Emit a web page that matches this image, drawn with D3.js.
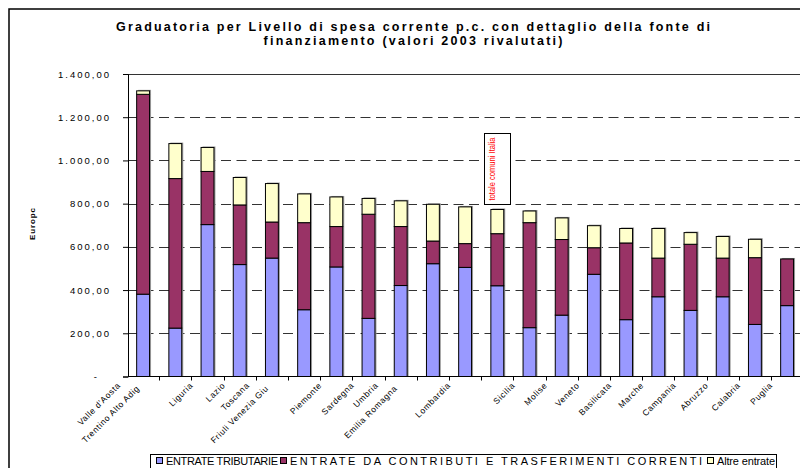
<!DOCTYPE html>
<html><head><meta charset="utf-8">
<script src="https://cdn.jsdelivr.net/npm/d3@7"></script>
<style>body{margin:0;background:#fff} svg{display:block;font-family:"Liberation Sans",Arial,sans-serif}</style>
</head><body><svg id="c" width="800" height="468"></svg>
<script>
// ---- data ----
const regions = ["Valle d'Aosta","Trentino Alto Adige","Liguria","Lazio","Toscana","Friuli Venezia Giulia","Piemonte","Sardegna","Umbria","Emilia Romagna","Lombardia","totale comuni Italia","Sicilia","Molise","Veneto","Basilicata","Marche","Campania","Abruzzo","Calabria","Puglia"];
// axis text as printed under each bar (some are printed as two lines, some bars have none)
const tickLabels = [["Valle d'Aosta","Trentino Alto Adig"],[],["Liguria"],["Lazio"],["Toscana","Friuli Venezia Giu"],[],["Piemonte"],["Sardegna"],["Umbria","Emilia Romagna"],[],["Lombardia"],[],["Sicilia"],["Molise"],["Veneto"],["Basilicata"],["Marche"],["Campania"],["Abruzzo"],["Calabria"],["Puglia"]];
const entrateTributarie = [381,224,703,518,548,309,507,269,421,522,505,420,226,284,473,263,369,306,369,241,328];
const entrateContributi = [925,692,246,276,167,403,187,482,273,105,110,241,486,350,123,355,179,306,179,309,216];
const altreEntrate      = [16,162,111,127,178,133,137,73,119,170,170,112,54,100,102,67,137,54,100,85,0];
const seriesNames = ["ENTRATE TRIBUTARIE","ENTRATE DA CONTRIBUTI E TRASFERIMENTI CORRENTI","Altre entrate"];
const seriesColors = ["#9999FF","#993366","#FFFFCC"];
const yTicks = [0,200,400,600,800,1000,1200,1400];
const titleLines = ["Graduatoria per Livello di spesa corrente p.c. con dettaglio della fonte di","finanziamento (valori 2003 rivalutati)"];
const yTitle = "Europc";
const annotationText = "totale comuni Italia";
const annotatedRegion = "totale comuni Italia";

// ---- chart ----
const svg = d3.select("#c");
const keys = ["trib","contr","altre"];
const rows = regions.map((r,i)=>({region:r, i, trib:entrateTributarie[i], contr:entrateContributi[i], altre:altreEntrate[i]}));
const stack = d3.stack().keys(keys)(rows);

const x = d3.scaleBand().domain(d3.range(regions.length)).range([127, 803.2]).paddingInner(0.6).paddingOuter(0.3);
const y = d3.scaleLinear().domain([0,1400]).range([376.5, 74]);
const x0 = 128;

// outer frame
svg.append("path").attr("d","M9,468V9H800").attr("fill","none").attr("stroke","#000").attr("stroke-width",1.5);

// title
titleLines.forEach((t,k)=>{
  svg.append("text").attr("x",413).attr("y",31+k*14).attr("text-anchor","middle")
    .attr("font-weight","bold").attr("font-size",12.5)
    .attr("textLength", k===0?594:299).attr("lengthAdjust","spacing").text(t);
});

// gridlines
svg.append("g").selectAll("line").data(yTicks.filter(v=>v>0)).join("line")
  .attr("x1",x0).attr("x2",800).attr("y1",d=>Math.round(y(d))+0.5).attr("y2",d=>Math.round(y(d))+0.5)
  .attr("stroke","#333").attr("stroke-width",1)
  .attr("stroke-dasharray",d=>d===1400?null:"10,5.5");

// bar shadows (light grey edge like the original)
svg.append("g").selectAll("rect").data(rows).join("rect")
  .attr("x",d=>x(d.i)+1.5).attr("width",x.bandwidth())
  .attr("y",d=>y(d.trib+d.contr+d.altre)-1).attr("height",d=>y(0)-y(d.trib+d.contr+d.altre)+1)
  .attr("fill","#9a9a9a");

// bars
const g = svg.append("g");
stack.forEach((s,si)=>{
  g.selectAll(null).data(s).join("rect")
    .filter(d=>d[1]-d[0]>0)
    .attr("x",d=>x(d.data.i)).attr("width",x.bandwidth())
    .attr("y",d=>y(d[1])).attr("height",d=>y(d[0])-y(d[1]))
    .attr("fill",seriesColors[si]).attr("stroke","#000").attr("stroke-width",1);
});

// y axis
const loc = d3.formatLocale({decimal:",",thousands:".",grouping:[3],currency:["",""]});
const fmt = loc.format(",.2f");
const ya = svg.append("g").attr("transform",`translate(${x0},0)`)
  .call(d3.axisLeft(y).tickValues(yTicks).tickSize(5).tickPadding(12).tickFormat(v=>v===0?"-":fmt(v)));
ya.select(".domain").attr("stroke","#000");
ya.selectAll(".tick line").attr("stroke","#000");
ya.selectAll(".tick text").attr("font-size",9.5).attr("letter-spacing","2px").attr("fill","#000")
  .attr("font-family","Liberation Sans, Arial, sans-serif")
  .attr("dx",d=>d===0?-12:0);

// x axis
svg.append("line").attr("x1",x0).attr("x2",800).attr("y1",376.5).attr("y2",376.5).attr("stroke","#000");
svg.append("g").selectAll("line").data(d3.range(1,regions.length+1)).join("line")
  .attr("x1",i=>Math.round(x(0)-x.step()*x.paddingOuter()+i*x.step())+0.5)
  .attr("x2",i=>Math.round(x(0)-x.step()*x.paddingOuter()+i*x.step())+0.5)
  .attr("y1",376.5).attr("y2",380.5).attr("stroke","#000");

// x labels
const xl = svg.append("g").attr("font-size",8.5).attr("letter-spacing","0.6px");
tickLabels.forEach((lines,i)=>{
  const cx = x(i)+x.bandwidth()/2;
  lines.forEach((t,k)=>{
    const dx = lines.length===1 ? -14 : (k===0 ? -22 : -3);
    const yy = k===0 ? 386 : 389;
    xl.append("text").attr("transform",`translate(${cx+dx},${yy}) rotate(-45)`)
      .attr("text-anchor","end").text(t);
  });
});

// y title
svg.append("text").attr("transform","translate(35,224) rotate(-90)").attr("text-anchor","middle")
  .attr("font-weight","bold").attr("font-size",8).attr("textLength",32).attr("lengthAdjust","spacing").text(yTitle);

// annotation box
const ai = regions.indexOf(annotatedRegion);
const acx = x(ai)+x.bandwidth()/2;
svg.append("rect").attr("x",Math.round(acx-13)+0.5).attr("y",133.5).attr("width",26).attr("height",Math.round(y(800))-133)
  .attr("fill","#fff").attr("stroke","#000");
svg.append("text").attr("transform",`translate(${acx-2},169) rotate(-90)`).attr("text-anchor","middle")
  .attr("font-size",8.5).attr("fill","#FF0000").attr("textLength",63).attr("lengthAdjust","spacingAndGlyphs").text(annotationText);

// legend
const lg = svg.append("g");
lg.append("rect").attr("x",150.5).attr("y",454.5).attr("width",626).attr("height",20).attr("fill","#fff").attr("stroke","#000");
const itemX = [156, 280, 707];
const itemW = [112, 412, 58];
seriesNames.forEach((n,k)=>{
  lg.append("rect").attr("x",itemX[k]+0.5).attr("y",457.5).attr("width",6).attr("height",6)
    .attr("fill",seriesColors[k]).attr("stroke","#000");
  lg.append("text").attr("x",itemX[k]+10).attr("y",464.5).attr("font-size",11)
    .attr("textLength",itemW[k]).attr("lengthAdjust","spacing").text(n);
});
</script></body></html>
